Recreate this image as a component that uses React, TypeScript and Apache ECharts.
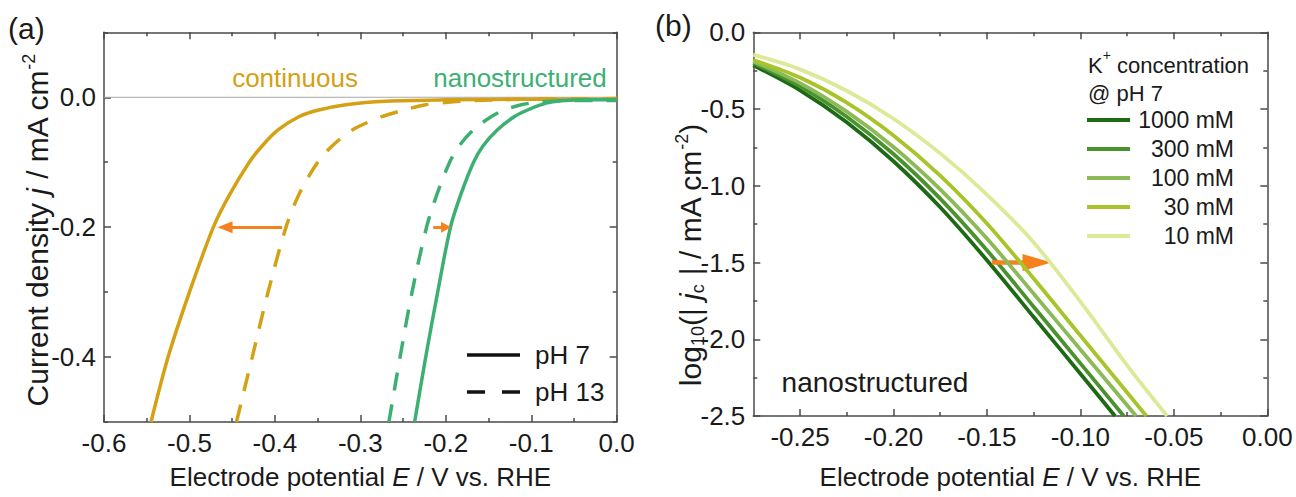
import React, { useEffect, useRef } from "react";
import * as echarts from "echarts";

const FONT = '"Liberation Sans", Arial, Helvetica, sans-serif';
const TXT = "#1a1a1a";
const AX = "#4a4a4a";

// ---------- panel (a) data ----------
const E_CONT_PH7 = [-0.545, -0.525, -0.5, -0.472, -0.453, -0.43, -0.415, -0.396, -0.372, -0.35, -0.315, -0.27, -0.2, -0.1, 0];
const J_CONT_PH7 = [-0.5, -0.4, -0.3, -0.2, -0.15, -0.1, -0.075, -0.05, -0.03, -0.02, -0.011, -0.006, -0.004, -0.003, -0.003];
const E_CONT_PH13 = [-0.445, -0.4265, -0.408, -0.387, -0.372, -0.35, -0.333, -0.309, -0.275, -0.25, -0.225, -0.2, -0.165, -0.1, 0];
const J_CONT_PH13 = [-0.5, -0.4, -0.3, -0.2, -0.15, -0.1, -0.075, -0.05, -0.03, -0.02, -0.012, -0.008, -0.005, -0.003, -0.002];
const E_NANO_PH7 = [-0.2365, -0.2235, -0.2095, -0.1945, -0.1825, -0.1675, -0.1565, -0.1395, -0.12, -0.105, -0.09, -0.075, -0.06, -0.04, 0];
const J_NANO_PH7 = [-0.5, -0.4, -0.3, -0.2, -0.15, -0.1, -0.075, -0.05, -0.03, -0.02, -0.012, -0.007, -0.005, -0.004, -0.004];
const E_NANO_PH13 = [-0.2666, -0.2535, -0.2395, -0.2225, -0.2105, -0.1955, -0.1845, -0.1675, -0.147, -0.132, -0.113, -0.095, -0.075, -0.05, 0];
const J_NANO_PH13 = [-0.5, -0.4, -0.3, -0.2, -0.15, -0.1, -0.075, -0.05, -0.03, -0.02, -0.012, -0.008, -0.006, -0.005, -0.005];

const A_X_TICKS = [-0.6, -0.5, -0.4, -0.3, -0.2, -0.1, 0];
const A_X_MINOR = [-0.55, -0.45, -0.35, -0.25, -0.15, -0.05];
const A_Y_TICKS = [-0.4, -0.2, 0];
const A_Y_MINOR = [-0.5, -0.3, -0.1, 0.1];

// ---------- panel (b) data ----------
const CONC_LABELS = ["1000 mM", "300 mM", "100 mM", "30 mM", "10 mM"];
const CONC_COLORS = ["#1d6a14", "#4a922d", "#8cba56", "#a7c52a", "#dcea98"];
const E_1000 = [-0.275, -0.25, -0.225, -0.2, -0.175, -0.15, -0.125, -0.1, -0.0815];
const V_1000 = [-0.215, -0.378, -0.586, -0.84, -1.14, -1.485, -1.855, -2.225, -2.5];
const E_300 = [-0.275, -0.25, -0.225, -0.2, -0.175, -0.15, -0.125, -0.1, -0.0768];
const V_300 = [-0.2, -0.352, -0.55, -0.793, -1.084, -1.42, -1.788, -2.157, -2.5];
const E_100 = [-0.275, -0.25, -0.225, -0.2, -0.175, -0.15, -0.125, -0.1, -0.0702];
const V_100 = [-0.19, -0.331, -0.517, -0.747, -1.023, -1.344, -1.703, -2.067, -2.5];
const E_30 = [-0.275, -0.25, -0.225, -0.2, -0.175, -0.15, -0.125, -0.1, -0.075, -0.0647];
const V_30 = [-0.18, -0.295, -0.458, -0.672, -0.934, -1.246, -1.604, -1.976, -2.347, -2.5];
const E_10 = [-0.275, -0.25, -0.225, -0.2, -0.175, -0.15, -0.125, -0.1, -0.075, -0.0536];
const V_10 = [-0.145, -0.2415, -0.381, -0.563, -0.789, -1.0575, -1.369, -1.755, -2.17, -2.5];

const B_X_TICKS = [-0.25, -0.2, -0.15, -0.1, -0.05, 0];
const B_X_MINOR = [-0.225, -0.175, -0.125, -0.075, -0.025];
const B_Y_TICKS = [-2.5, -2, -1.5, -1, -0.5, 0];
const B_Y_MINOR = [-2.25, -1.75, -1.25, -0.75, -0.25];

const zip = (xs: number[], ys: number[]) => xs.map((x, i) => [x, ys[i]]);

const RICH = {
  i: { fontStyle: "italic", fontSize: 26, fontFamily: FONT, color: TXT, lineHeight: 30 },
};

function axisPair(
  grid: number,
  position: string,
  min: number,
  max: number,
  major: number[],
  minor: number[],
  digits: number | null,
  name?: string,
  nameGap?: number
) {
  const base: any = {
    type: "value",
    gridIndex: grid,
    position,
    min,
    max,
    splitLine: { show: false },
  };
  const majorAxis: any = {
    ...base,
    axisLine: { show: true, onZero: false, lineStyle: { color: AX, width: 1.5 } },
    axisTick: { show: true, inside: true, length: 7, customValues: major, lineStyle: { color: AX, width: 1.5 } },
    axisLabel:
      digits === null
        ? { show: false }
        : {
            show: true,
            customValues: major,
            formatter: (v: number) => (Math.abs(v) < 1e-9 ? 0 : v).toFixed(digits),
            fontSize: 26,
            fontFamily: FONT,
            color: TXT,
            margin: 8,
          },
  };
  if (name) {
    majorAxis.name = name;
    majorAxis.nameLocation = "middle";
    majorAxis.nameGap = nameGap;
    majorAxis.nameTextStyle = { fontSize: 26, fontFamily: FONT, color: TXT, lineHeight: 30, rich: RICH };
  }
  const minorAxis: any = {
    ...base,
    axisLine: { show: false, onZero: false },
    axisTick: { show: true, inside: true, length: 4, customValues: minor, lineStyle: { color: AX, width: 1.5 } },
    axisLabel: { show: false },
  };
  return [majorAxis, minorAxis];
}

const XTITLE = "Electrode potential {i|E} / V vs. RHE";

export default function App() {
  const ref = useRef<HTMLDivElement>(null);
  useEffect(() => {
    if (!ref.current) return;
    const chart = echarts.init(ref.current, undefined, { renderer: "svg" });

    const gold = "#d4a014";
    const green = "#3cb072";
    const orange = "#f7811e";

    const xAxis = [
      ...axisPair(0, "bottom", -0.6, 0, A_X_TICKS, A_X_MINOR, 1, XTITLE, 40),
      ...axisPair(0, "top", -0.6, 0, A_X_TICKS, A_X_MINOR, null),
      ...axisPair(1, "bottom", -0.275, 0, B_X_TICKS, B_X_MINOR, 2, XTITLE, 46),
      ...axisPair(1, "top", -0.275, 0, B_X_TICKS, B_X_MINOR, null),
    ];
    const yAxis = [
      ...axisPair(0, "left", -0.5, 0.1, A_Y_TICKS, A_Y_MINOR, 1),
      ...axisPair(0, "right", -0.5, 0.1, A_Y_TICKS, A_Y_MINOR, null),
      ...axisPair(1, "left", -2.5, 0, B_Y_TICKS, B_Y_MINOR, 1),
      ...axisPair(1, "right", -2.5, 0, B_Y_TICKS, B_Y_MINOR, null),
    ];

    const lineA = (data: number[][], color: string, dashed: boolean) => ({
      type: "line",
      xAxisIndex: 0,
      yAxisIndex: 0,
      data,
      smooth: 0.3,
      symbol: "none",
      lineStyle: { color, width: 3.5, type: dashed ? [18, 14] : "solid", cap: "butt" },
      z: 3,
    });

    const bData = [zip(E_1000, V_1000), zip(E_300, V_300), zip(E_100, V_100), zip(E_30, V_30), zip(E_10, V_10)];

    const series: any[] = [
      {
        type: "line",
        xAxisIndex: 0,
        yAxisIndex: 0,
        data: [[-0.6, 0], [0, 0]],
        symbol: "none",
        lineStyle: { color: "#a8a8a8", width: 1 },
        z: 1,
        markLine: {
          silent: true,
          animation: false,
          label: { show: false },
          symbol: ["none", "triangle"],
          lineStyle: { color: orange, width: 3, type: "solid" },
          data: [
            [
              { coord: [-0.3916, -0.2], symbolSize: 0 },
              { coord: [-0.4583, -0.2], symbolSize: [12, 15] },
            ],
            [
              { coord: [-0.2147, -0.2], symbolSize: 0 },
              { coord: [-0.1997, -0.2], symbolSize: [11, 10] },
            ],
          ],
        },
      },
      lineA(zip(E_CONT_PH7, J_CONT_PH7), gold, false),
      lineA(zip(E_CONT_PH13, J_CONT_PH13), gold, true),
      lineA(zip(E_NANO_PH7, J_NANO_PH7), green, false),
      lineA(zip(E_NANO_PH13, J_NANO_PH13), green, true),
      ...bData.map((d, i) => ({
        type: "line",
        name: CONC_LABELS[i],
        xAxisIndex: 4,
        yAxisIndex: 4,
        data: d,
        smooth: 0.3,
        symbol: "none",
        lineStyle: { color: CONC_COLORS[i], width: 3.8 },
        z: 3 + i,
      })),
      {
        type: "line",
        xAxisIndex: 4,
        yAxisIndex: 4,
        data: [],
        symbol: "none",
        z: 10,
        markLine: {
          silent: true,
          animation: false,
          label: { show: false },
          symbol: ["none", "triangle"],
          lineStyle: { color: orange, width: 4.5, type: "solid" },
          data: [
            [
              { coord: [-0.1474, -1.5], symbolSize: 0 },
              { coord: [-0.1232, -1.5], symbolSize: [17, 29] },
            ],
          ],
        },
      },
    ];

    const txt = (text: string, x: number, y: number, size: number, fill: string, align = "left", rich?: any, rotation = 0) => ({
      type: "text",
      x,
      y,
      rotation,
      z: 20,
      style: {
        text,
        fill,
        fontSize: size,
        fontFamily: FONT,
        align,
        verticalAlign: "middle",
        textAlign: align,
        textVerticalAlign: "middle",
        lineHeight: rich ? 34 : undefined,
        rich,
      },
    });
    const seg = (x1: number, y1: number, x2: number, y2: number, stroke: string, w: number) => ({
      type: "line",
      z: 20,
      shape: { x1, y1, x2, y2 },
      style: { stroke, lineWidth: w },
    });

    const TS = 30;
    const titleRich = {
      i: { fontStyle: "italic", fontSize: TS, fontFamily: FONT, fill: TXT, lineHeight: 34 },
      sup: { fontSize: 18, fontFamily: FONT, fill: TXT, verticalAlign: "top", lineHeight: 18 },
      sub: { fontSize: 18, fontFamily: FONT, fill: TXT, verticalAlign: "bottom", lineHeight: 18 },
    };
    const legendRich = {
      sup: { fontSize: 14, fontFamily: FONT, fill: TXT, verticalAlign: "top", lineHeight: 14 },
    };

    const graphic: any[] = [
      txt("(a)", 8, 28, 30, TXT),
      txt("(b)", 655, 25, 30, TXT),
      txt("Current density {i|j} / mA cm{sup|-2}", 37, 230, TS, TXT, "center", titleRich, Math.PI / 2),
      txt("log{sub|10}(| {i|j}{sub|c} | / mA cm{sup|-2})", 690, 255, TS, TXT, "center", titleRich, Math.PI / 2),
      txt("continuous", 295, 78, 26, gold, "center"),
      txt("nanostructured", 520, 78, 26, green, "center"),
      seg(467, 355, 520, 355, "#111", 3.5),
      seg(467, 392, 485, 392, "#111", 3.5),
      seg(502, 392, 520, 392, "#111", 3.5),
      txt("pH 7", 535, 355, 26, TXT),
      txt("pH 13", 535, 392, 26, TXT),
      txt("nanostructured", 875, 382, 28, TXT, "center"),
      txt("K{sup|+} concentration", 1088, 65, 22, TXT, "left", legendRich),
      txt("@ pH 7", 1088, 93, 22, TXT),
    ];
    const legY = [120, 149, 178, 207, 236];
    CONC_LABELS.forEach((lab, i) => {
      graphic.push(seg(1087, legY[i], 1130, legY[i], CONC_COLORS[i], 4));
      graphic.push(txt(lab, 1234, legY[i], 23, TXT, "right"));
    });

    chart.setOption({
      animation: false,
      backgroundColor: "#ffffff",
      textStyle: { fontFamily: FONT },
      grid: [
        { left: 104, top: 32.3, width: 512.7, height: 392 },
        { left: 753.3, top: 32.3, width: 514, height: 392 },
      ],
      xAxis,
      yAxis,
      series,
      graphic,
    });
    return () => chart.dispose();
  }, []);
  return (
    <div
      ref={ref}
      style={{ position: "fixed", left: 0, top: 0, width: 1296, height: 497, background: "#fff" }}
    />
  );
}
